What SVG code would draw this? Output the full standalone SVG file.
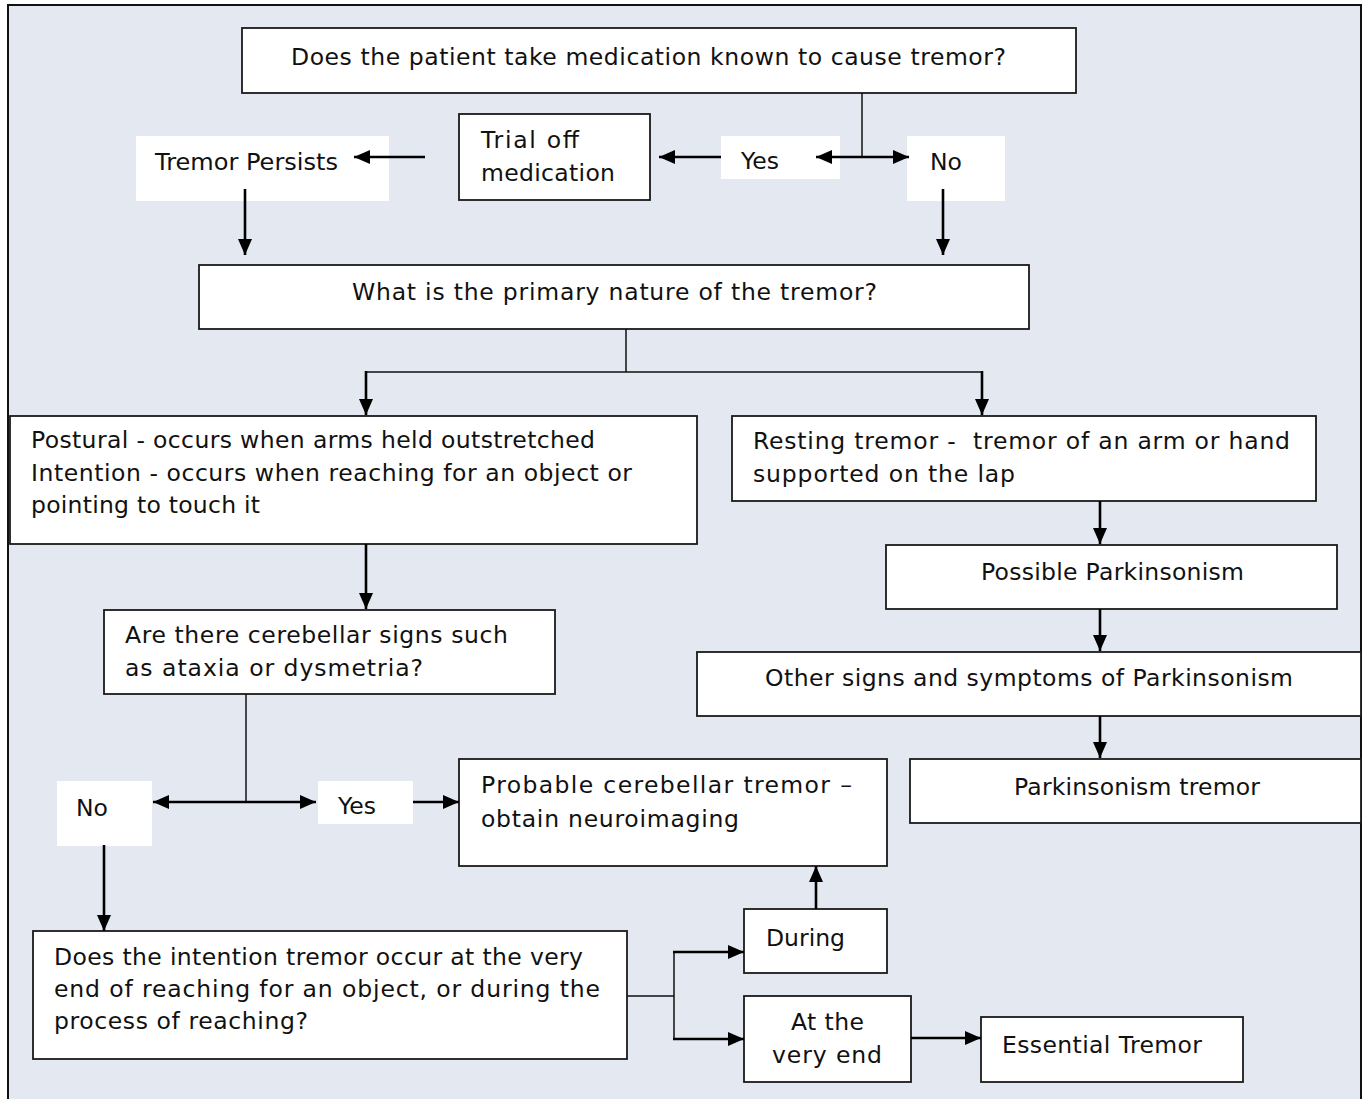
<svg xmlns="http://www.w3.org/2000/svg" width="1364" height="1099" viewBox="0 0 1364 1099">
<defs>
<style>
.box{fill:#ffffff;stroke:#1a1a1a;stroke-width:1.8}
.lbl{fill:#ffffff;stroke:none}
.t{font-family:"DejaVu Sans","Liberation Sans",sans-serif;font-size:23.5px;fill:#111111;white-space:pre}
.thin{fill:none;stroke:#111111;stroke-width:1.5}
.thick{fill:none;stroke:#000000;stroke-width:2.6}
.arr{marker-end:url(#ah)}
.dbl{marker-start:url(#ah);marker-end:url(#ah)}
</style>
<marker id="ah" markerUnits="userSpaceOnUse" markerWidth="17" markerHeight="15" viewBox="0 0 17 15" refX="16" refY="7.5" orient="auto-start-reverse">
<path d="M0,0.5 L16,7.5 L0,14.5 z" fill="#000000"/>
</marker>
</defs>
<rect x="0" y="0" width="1364" height="1099" fill="#ffffff"/>
<rect id="frame" x="8" y="5" width="1353" height="1110" fill="#E4E9F1" stroke="#111111" stroke-width="2"/>

<g id="n-top"><rect class="box" x="242" y="28" width="834" height="65"/><text class="t" x="291" y="65" textLength="715" lengthAdjust="spacing">Does the patient take medication known to cause tremor?</text></g>
<g id="n-trial"><rect class="box" x="459" y="114" width="191" height="86"/><text class="t" x="481" y="148" textLength="98" lengthAdjust="spacing">Trial off</text><text class="t" x="481" y="181" textLength="134" lengthAdjust="spacing">medication</text></g>
<g id="l-yes1"><rect class="lbl" x="721" y="136" width="119" height="43"/><text class="t" x="741" y="169">Yes</text></g>
<g id="l-no1"><rect class="lbl" x="907" y="136" width="98" height="65"/><text class="t" x="930" y="170">No</text></g>
<g id="l-persists"><rect class="lbl" x="136" y="136" width="253" height="65"/><text class="t" x="155" y="170" textLength="183" lengthAdjust="spacingAndGlyphs">Tremor Persists</text></g>
<g id="n-nature"><rect class="box" x="199" y="265" width="830" height="64"/><text class="t" x="352" y="300" textLength="525" lengthAdjust="spacing">What is the primary nature of the tremor?</text></g>
<g id="n-postural"><rect class="box" x="10" y="416" width="687" height="128"/><text class="t" x="31" y="448" textLength="564" lengthAdjust="spacing">Postural - occurs when arms held outstretched</text><text class="t" x="31" y="481" textLength="601" lengthAdjust="spacing">Intention - occurs when reaching for an object or</text><text class="t" x="31" y="513" textLength="229" lengthAdjust="spacing">pointing to touch it</text></g>
<g id="n-resting"><rect class="box" x="732" y="416" width="584" height="85"/><text class="t" x="753" y="449" textLength="537" lengthAdjust="spacing" xml:space="preserve">Resting tremor -  tremor of an arm or hand</text><text class="t" x="753" y="482" textLength="262" lengthAdjust="spacing">supported on the lap</text></g>
<g id="n-possible"><rect class="box" x="886" y="545" width="451" height="64"/><text class="t" x="981" y="580" textLength="263" lengthAdjust="spacing">Possible Parkinsonism</text></g>
<g id="n-other"><rect class="box" x="697" y="652" width="664" height="64"/><text class="t" x="765" y="686" textLength="528" lengthAdjust="spacing">Other signs and symptoms of Parkinsonism</text></g>
<g id="n-ptremor"><rect class="box" x="910" y="759" width="451" height="64"/><text class="t" x="1014" y="795" textLength="246" lengthAdjust="spacing">Parkinsonism tremor</text></g>
<g id="n-cereb"><rect class="box" x="104" y="610" width="451" height="84"/><text class="t" x="125" y="643" textLength="383" lengthAdjust="spacing">Are there cerebellar signs such</text><text class="t" x="125" y="676" textLength="298" lengthAdjust="spacing">as ataxia or dysmetria?</text></g>
<g id="l-no2"><rect class="lbl" x="57" y="781" width="95" height="65"/><text class="t" x="76" y="816">No</text></g>
<g id="l-yes2"><rect class="lbl" x="318" y="781" width="95" height="43"/><text class="t" x="338" y="814">Yes</text></g>
<g id="n-probable"><rect class="box" x="459" y="759" width="428" height="107"/><text class="t" x="481" y="793" textLength="371" lengthAdjust="spacing">Probable cerebellar tremor –</text><text class="t" x="481" y="827" textLength="258" lengthAdjust="spacing">obtain neuroimaging</text></g>
<g id="n-intention"><rect class="box" x="33" y="931" width="594" height="128"/><text class="t" x="54" y="965" textLength="529" lengthAdjust="spacing">Does the intention tremor occur at the very</text><text class="t" x="54" y="997" textLength="546" lengthAdjust="spacing">end of reaching for an object, or during the</text><text class="t" x="54" y="1029" textLength="254" lengthAdjust="spacing">process of reaching?</text></g>
<g id="n-during"><rect class="box" x="744" y="909" width="143" height="64"/><text class="t" x="766" y="946">During</text></g>
<g id="n-atend"><rect class="box" x="744" y="996" width="167" height="86"/><text class="t" x="791" y="1030" textLength="73" lengthAdjust="spacing">At the</text><text class="t" x="772" y="1063" textLength="110" lengthAdjust="spacing">very end</text></g>
<g id="n-essential"><rect class="box" x="981" y="1017" width="262" height="65"/><text class="t" x="1002" y="1053" textLength="200" lengthAdjust="spacing">Essential Tremor</text></g>

<g id="connectors">
<path class="thin" d="M862,93 V157"/>
<path class="thick dbl" d="M816,157 H909"/>
<path class="thick arr" d="M721,157 H659"/>
<path class="thick arr" d="M425,157 H354"/>
<path class="thick arr" d="M245,189 V255"/>
<path class="thick arr" d="M943,189 V255"/>
<path class="thin" d="M626,329 V372 M366,372 H982"/>
<path class="thick arr" d="M366,371 V415"/>
<path class="thick arr" d="M982,371 V415"/>
<path class="thick arr" d="M1100,501 V544"/>
<path class="thick arr" d="M1100,609 V651"/>
<path class="thick arr" d="M1100,716 V758"/>
<path class="thick arr" d="M366,544 V609"/>
<path class="thin" d="M246,694 V802"/>
<path class="thick dbl" d="M153,802 H316"/>
<path class="thick arr" d="M413,802 H459"/>
<path class="thick arr" d="M104,845 V931"/>
<path class="thin" d="M627,996 H674 M674,952 V1039"/>
<path class="thick arr" d="M673,952 H744"/>
<path class="thick arr" d="M673,1039 H744"/>
<path class="thick arr" d="M816,909 V866"/>
<path class="thick arr" d="M911,1038 H981"/>
</g>
</svg>
